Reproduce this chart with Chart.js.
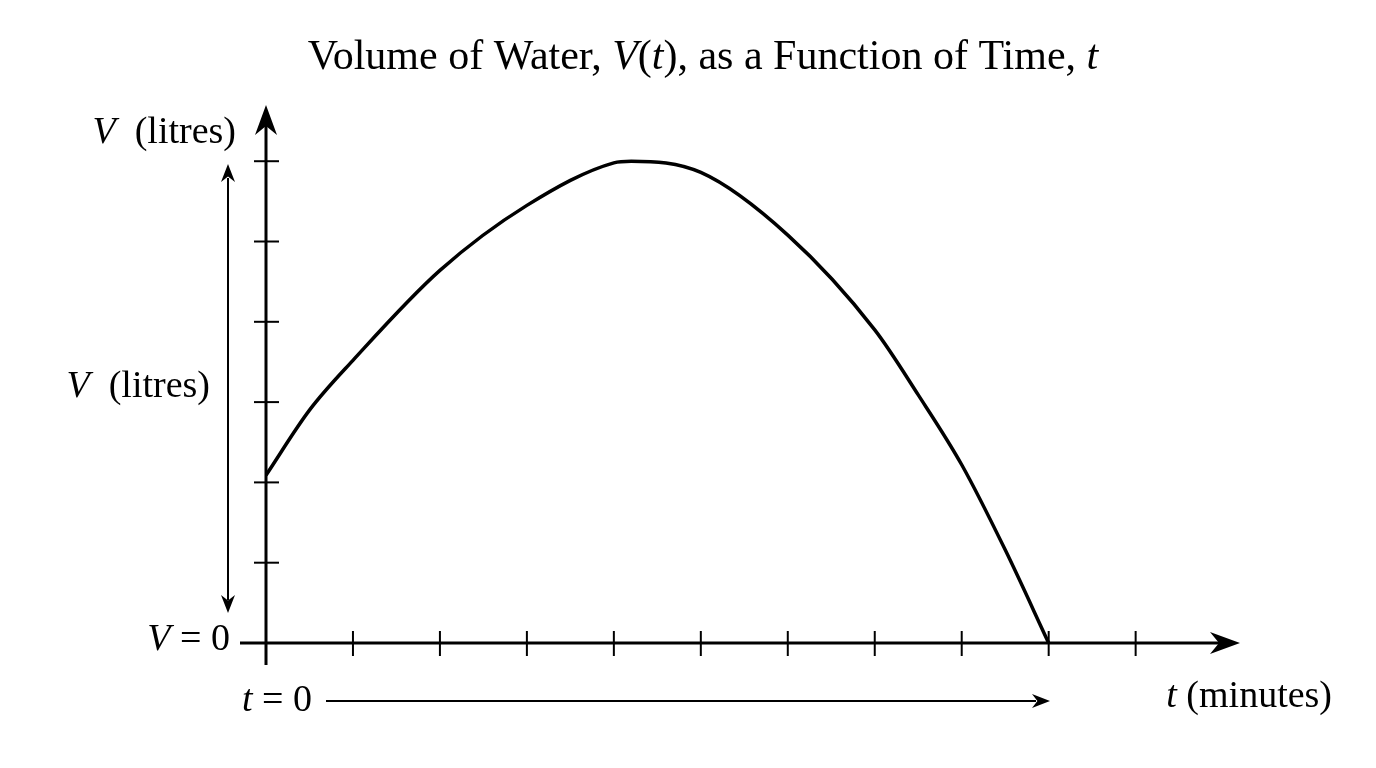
<!DOCTYPE html>
<html><head><meta charset="utf-8">
<script src="https://cdn.jsdelivr.net/npm/chart.js@4.4.1/dist/chart.umd.min.js"></script>
<style>html,body{margin:0;background:#fff}#w{width:1376px;height:768px}</style>
</head><body><div id="w"><canvas id="c"></canvas></div>
<script>
const tValues = [0, 0.5, 1, 2, 3, 4, 4.2, 5, 6, 7, 7.5, 8, 8.5, 9];
const vValues = [2.09, 2.9, 3.52, 4.64, 5.45, 5.98, 6.0, 5.86, 5.08, 3.9, 3.09, 2.22, 1.16, 0];
const xTicks = [1,2,3,4,5,6,7,8,9,10];
const yTicks = [1,2,3,4,5,6];
const SERIF = '"Liberation Serif", "DejaVu Serif", serif';

function rich(ctx, parts, x, y, size, align) {
  let w = 0;
  parts.forEach(p => { ctx.font = (p[1] ? 'italic ' : '') + size + 'px ' + SERIF; w += ctx.measureText(p[0]).width; });
  let cx = align === 'right' ? x - w : align === 'center' ? x - w / 2 : x;
  ctx.textAlign = 'left'; ctx.textBaseline = 'middle';
  parts.forEach(p => { ctx.font = (p[1] ? 'italic ' : '') + size + 'px ' + SERIF; ctx.fillText(p[0], cx, y); cx += ctx.measureText(p[0]).width; });
}
function arrowHead(ctx, x, y, dx, dy, len, wid) {
  const px = -dy, py = dx;
  ctx.beginPath();
  ctx.moveTo(x, y);
  ctx.lineTo(x - dx * len + px * wid, y - dy * len + py * wid);
  ctx.lineTo(x - dx * len * 0.7, y - dy * len * 0.7);
  ctx.lineTo(x - dx * len - px * wid, y - dy * len - py * wid);
  ctx.closePath(); ctx.fill();
}
const axesPlugin = {
  id: 'axesPlugin',
  afterDraw(chart) {
    const ctx = chart.ctx, xs = chart.scales.x, ys = chart.scales.y;
    const x0 = xs.getPixelForValue(0), y0 = ys.getPixelForValue(0);
    ctx.save(); ctx.strokeStyle = '#000'; ctx.fillStyle = '#000'; ctx.lineWidth = 3;
    ctx.beginPath(); ctx.moveTo(240, y0); ctx.lineTo(xs.right - 10, y0); ctx.stroke();
    arrowHead(ctx, xs.right, y0, 1, 0, 30, 11);
    ctx.beginPath(); ctx.moveTo(x0, 665); ctx.lineTo(x0, ys.top + 10); ctx.stroke();
    arrowHead(ctx, x0, ys.top, 0, -1, 30, 11);
    ctx.lineWidth = 2;
    xTicks.forEach(v => { const p = xs.getPixelForValue(v); ctx.beginPath(); ctx.moveTo(p, y0 - 12); ctx.lineTo(p, y0 + 13); ctx.stroke(); });
    yTicks.forEach(v => { const p = ys.getPixelForValue(v); ctx.beginPath(); ctx.moveTo(x0 - 12, p); ctx.lineTo(x0 + 13, p); ctx.stroke(); });
    // side arrows
    ctx.lineWidth = 2;
    ctx.beginPath(); ctx.moveTo(228, 178); ctx.lineTo(228, 600); ctx.stroke();
    arrowHead(ctx, 228, 164, 0, -1, 18, 7); arrowHead(ctx, 228, 613, 0, 1, 18, 7);
    ctx.beginPath(); ctx.moveTo(326, 701); ctx.lineTo(1036, 701); ctx.stroke();
    arrowHead(ctx, 1050, 701, 1, 0, 18, 7);
    // texts
    rich(ctx, [['Volume of Water, ', 0], ['V', 1], ['(', 0], ['t', 1], ['), as a Function of Time, ', 0], ['t', 1]], 703, 58, 42, 'center');
    rich(ctx, [['V', 1], ['  (litres)', 0]], 236, 133, 38, 'right');
    rich(ctx, [['V', 1], ['  (litres)', 0]], 210, 387, 38, 'right');
    rich(ctx, [['V', 1], [' = 0', 0]], 230, 640, 38, 'right');
    rich(ctx, [['t', 1], [' = 0', 0]], 312, 701, 38, 'right');
    rich(ctx, [['t', 1], [' (minutes)', 0]], 1332, 697, 38, 'right');
    ctx.restore();
  }
};
new Chart(document.getElementById('c'), {
  type: 'line',
  data: { datasets: [{ data: tValues.map((t, i) => ({ x: t, y: vValues[i] })), borderColor: '#000', borderWidth: 3.5, pointRadius: 0, cubicInterpolationMode: 'monotone', fill: false }] },
  options: {
    responsive: true, maintainAspectRatio: false, animation: false,
    layout: { padding: { left: 266, right: 136, top: 105, bottom: 125 } },
    plugins: { legend: { display: false }, tooltip: { enabled: false } },
    scales: {
      x: { type: 'linear', min: 0, max: 11.2, display: false },
      y: { type: 'linear', min: 0, max: 6.7, display: false }
    }
  },
  plugins: [axesPlugin]
});
</script></body></html>
